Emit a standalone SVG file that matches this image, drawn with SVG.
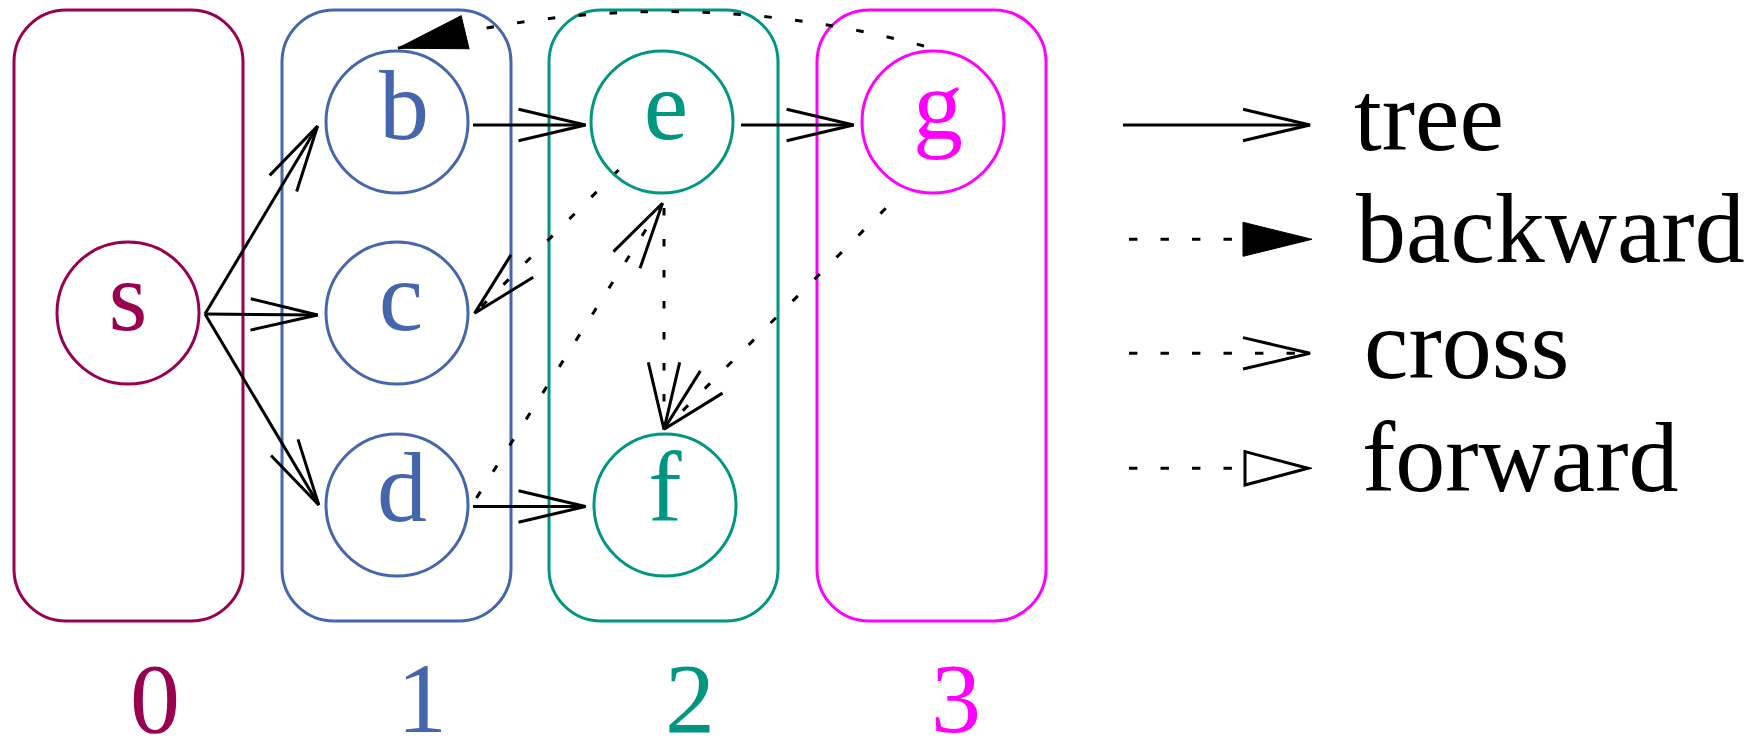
<svg xmlns="http://www.w3.org/2000/svg" width="1758" height="739" viewBox="0 0 1758 739">
<style>
.box{fill:none;stroke-width:3}
.lbl{font-size:100px;text-anchor:middle}
.lvl{font-size:100px;text-anchor:middle}
.leg{font-size:100px;fill:#000}
.tree{fill:none;stroke:#000;stroke-width:3}
.dot{fill:none;stroke:#000;stroke-width:3;stroke-dasharray:7.5 23.5}
.ldot{stroke-dasharray:8.4 23.1}
</style>
<defs>
<marker id="open" markerUnits="userSpaceOnUse" viewBox="-3 -19 74 38" refX="67" refY="0" markerWidth="74" markerHeight="38" orient="auto">
<path d="M0,-15.7 L67,0 L0,15.7" fill="none" stroke="#000" stroke-width="3"/>
</marker>
<marker id="filled" markerUnits="userSpaceOnUse" viewBox="-2 -19 73 38" refX="69" refY="0" markerWidth="73" markerHeight="38" orient="auto">
<path d="M0,-17 L69,0 L0,17 Z" fill="#000" stroke="#000" stroke-width="1"/>
</marker>
<marker id="hollow" markerUnits="userSpaceOnUse" viewBox="-3 -20 70 40" refX="63" refY="0" markerWidth="70" markerHeight="40" orient="auto">
<path d="M0,-16.7 L63,0 L0,16.7 Z" fill="#fff" stroke="#000" stroke-width="3"/>
</marker>
</defs>

<g font-family="'Liberation Serif', Tinos, 'Times New Roman', 'DejaVu Serif', serif">
<g id="level0">
<rect class="box" stroke="#990050" x="14" y="10" width="229" height="611" rx="52" ry="52"/>
<text class="lvl" x="155" y="732" fill="#990050">0</text>
</g>
<g id="level1">
<rect class="box" stroke="#4565ad" x="282" y="10" width="229" height="611" rx="52" ry="52"/>
<text class="lvl" x="422" y="732" fill="#4565ad">1</text>
</g>
<g id="level2">
<rect class="box" stroke="#009682" x="549" y="10" width="229" height="611" rx="52" ry="52"/>
<text class="lvl" x="690" y="732" fill="#009682">2</text>
</g>
<g id="level3">
<rect class="box" stroke="#ff00ff" x="817" y="10" width="229" height="611" rx="52" ry="52"/>
<text class="lvl" x="956" y="732" fill="#ff00ff">3</text>
</g>

<g id="connectors">
<path class="tree" d="M205,314 L317.6,126" marker-end="url(#open)"/>
<path class="tree" d="M205,314 L317.6,315" marker-end="url(#open)"/>
<path class="tree" d="M205,314 L318.8,505" marker-end="url(#open)"/>
<path class="tree" d="M473,125 L585.5,125" marker-end="url(#open)"/>
<path class="tree" d="M473,506.5 L585.5,506.5" marker-end="url(#open)"/>
<path class="tree" d="M741,125 L853.6,125" marker-end="url(#open)"/>
<path class="dot" d="M924,46 Q695,-15 466,32 L398,48.3" marker-end="url(#filled)"/>
<path class="dot" d="M618.6,170 L474.6,313.3" marker-end="url(#open)"/>
<path class="dot" d="M476.5,498 L662.5,203.3" marker-end="url(#open)"/>
<path class="dot" d="M664,208 L664,429.3" marker-end="url(#open)"/>
<path class="dot" d="M885.7,208.3 L664,429.3" marker-end="url(#open)"/>
</g>

<g id="node-s">
<circle cx="128" cy="313" r="71" fill="none" stroke="#990050" stroke-width="3"/>
<text class="lbl" x="128" y="330" fill="#990050">s</text>
</g>
<g id="node-b">
<circle cx="397" cy="122" r="71" fill="none" stroke="#4565ad" stroke-width="3"/>
<text class="lbl" x="404" y="139" fill="#4565ad">b</text>
</g>
<g id="node-c">
<circle cx="397" cy="313" r="71" fill="none" stroke="#4565ad" stroke-width="3"/>
<text class="lbl" x="401" y="330" fill="#4565ad">c</text>
</g>
<g id="node-d">
<circle cx="397" cy="505" r="71" fill="none" stroke="#4565ad" stroke-width="3"/>
<text class="lbl" x="402" y="521" fill="#4565ad">d</text>
</g>
<g id="node-e">
<circle cx="662" cy="122" r="71" fill="none" stroke="#009682" stroke-width="3"/>
<text class="lbl" x="666" y="139" fill="#009682">e</text>
</g>
<g id="node-f">
<circle cx="665" cy="505" r="71" fill="none" stroke="#009682" stroke-width="3"/>
<text class="lbl" x="665" y="521" fill="#009682">f</text>
</g>
<g id="node-g">
<circle cx="933" cy="122" r="71" fill="none" stroke="#ff00ff" stroke-width="3"/>
<text class="lbl" x="938" y="139" fill="#ff00ff">g</text>
</g>

<g id="legend">
<path class="tree" d="M1123,125 L1310,125" marker-end="url(#open)"/>
<path class="dot ldot" d="M1129,239.3 L1312,239.3" marker-end="url(#filled)"/>
<path class="dot ldot" d="M1129,353.3 L1310,353.3" marker-end="url(#open)"/>
<path class="dot ldot" d="M1129,468.3 L1308,468.3" marker-end="url(#hollow)"/>
<text class="leg" x="1354" y="150">tree</text>
<text class="leg" x="1356" y="262">backward</text>
<text class="leg" x="1364" y="378">cross</text>
<text class="leg" x="1362" y="491">forward</text>
</g>
</g>
</svg>
